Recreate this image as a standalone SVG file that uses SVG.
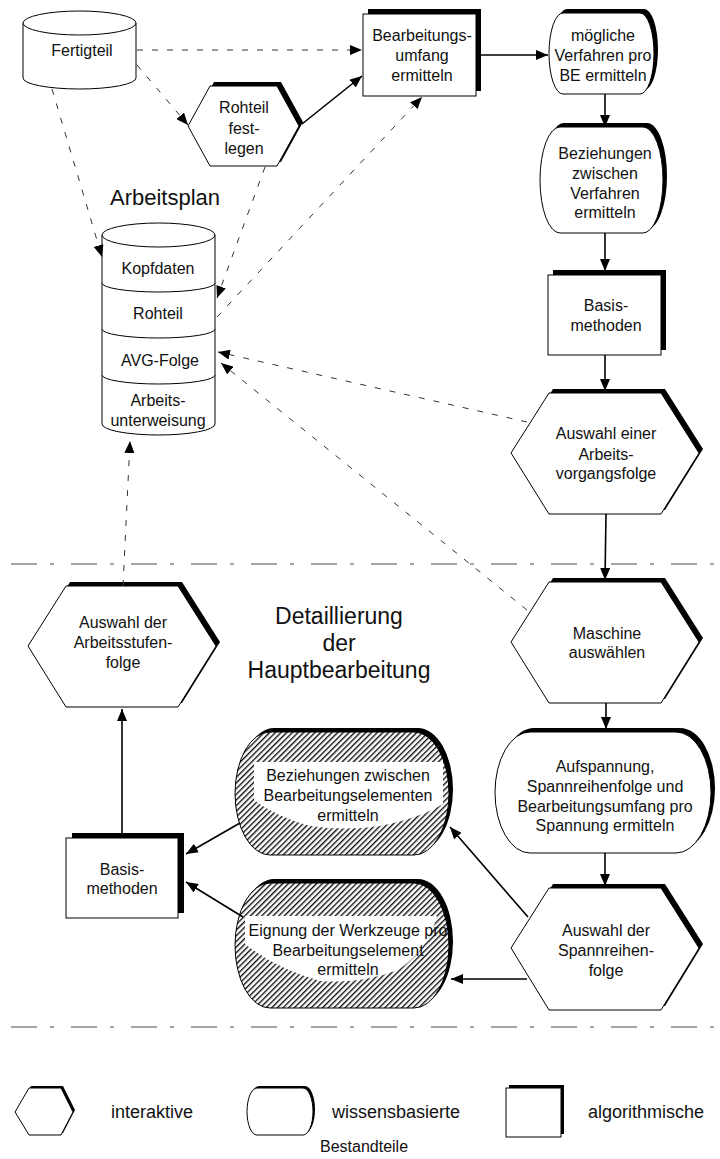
<svg xmlns="http://www.w3.org/2000/svg" width="720" height="1159" viewBox="0 0 720 1159">
<defs>
<style>
text{font-family:"Liberation Sans",Arial,sans-serif;font-size:16px;fill:#111;text-anchor:middle}
.big{font-size:22px}
.big2{font-size:23px}
.leg{font-size:18px}
.sh{fill:#000;stroke:none}
.nd{fill:#fff;stroke:#000;stroke-width:1}
.hat{fill:url(#hatch);stroke:#000;stroke-width:1}
.wh{fill:#fff;stroke:none}
.solid{stroke:#000;stroke-width:1.6;fill:none}
.dash{stroke:#333;stroke-width:1;fill:none;stroke-dasharray:6 9}
.sep{stroke:#888;stroke-width:1.6;fill:none;stroke-dasharray:26 13 4 17}
</style>
<pattern id="hatch" patternUnits="userSpaceOnUse" width="4" height="4" patternTransform="rotate(45)">
<rect width="4" height="4" fill="#fff"/>
<line x1="0.7" y1="0" x2="0.7" y2="4" stroke="#000" stroke-width="1.3"/>
</pattern>
<marker id="ah" markerUnits="userSpaceOnUse" markerWidth="12" markerHeight="10" refX="12" refY="5" orient="auto">
<path d="M0,0 L12,5 L0,10 z" fill="#000"/>
</marker>
</defs>

<g id="separators">
<line class="sep" x1="11" y1="564" x2="720" y2="564"/>
<line class="sep" x1="11" y1="1027" x2="720" y2="1027"/>
</g>

<g id="fertigteil">
<path class="nd" d="M23,23 V78 A56.5,11 0 0 0 136,78 V23"/>
<ellipse class="nd" cx="79.5" cy="23" rx="56.5" ry="12"/>
<text x="82" y="56">Fertigteil</text>
</g>

<g id="arbeitsplan">
<text class="big" x="165" y="205">Arbeitsplan</text>
<path class="nd" d="M102,235 V424 A56.5,11 0 0 0 215,424 V235"/>
<ellipse class="nd" cx="158.5" cy="235" rx="56.5" ry="12"/>
<path class="nd" d="M102,283 A56.5,9 0 0 0 215,283"/>
<path class="nd" d="M102,329 A56.5,9 0 0 0 215,329"/>
<path class="nd" d="M102,375 A56.5,9 0 0 0 215,375"/>
<text x="158" y="274">Kopfdaten</text>
<text x="158" y="319">Rohteil</text>
<text x="160" y="366">AVG-Folge</text>
<text x="158" y="406">Arbeits-</text>
<text x="158" y="426">unterweisung</text>
</g>

<g id="rohteil-festlegen">
<polygon class="sh" transform="translate(4,-4)" points="188,126 210,86 277,86 299,126 277,166 210,166"/>
<polygon class="nd" points="188,126 210,86 277,86 299,126 277,166 210,166"/>
<text x="244" y="113">Rohteil</text>
<text x="244" y="134">fest-</text>
<text x="244" y="154">legen</text>
</g>

<g id="bearbeitungsumfang">
<rect class="sh" x="368" y="9" width="113" height="82"/>
<rect class="nd" x="363" y="14" width="113" height="82"/>
<text x="422" y="41">Bearbeitungs-</text>
<text x="422" y="61">umfang</text>
<text x="422" y="81">ermitteln</text>
</g>

<g id="moegliche-verfahren">
<rect class="sh" x="553" y="9" width="105" height="81" rx="14" ry="40.5"/>
<rect class="nd" x="549" y="13" width="105" height="81" rx="14" ry="40.5"/>
<text x="603" y="41">mögliche</text>
<text x="603" y="61">Verfahren pro</text>
<text x="603" y="81">BE ermitteln</text>
</g>

<g id="beziehungen-verfahren">
<rect class="sh" x="544" y="123" width="123" height="106" rx="20" ry="53"/>
<rect class="nd" x="540" y="127" width="123" height="106" rx="20" ry="53"/>
<text x="605" y="159">Beziehungen</text>
<text x="605" y="179">zwischen</text>
<text x="605" y="199">Verfahren</text>
<text x="605" y="218">ermitteln</text>
</g>

<g id="basismethoden-1">
<rect class="sh" x="553" y="270" width="113" height="80"/>
<rect class="nd" x="548" y="275" width="113" height="80"/>
<text x="606" y="311">Basis-</text>
<text x="606" y="331">methoden</text>
</g>

<g id="auswahl-avf">
<polygon class="sh" transform="translate(4,-4)" points="511,453 549,393 661,393 699,453 661,514 549,514"/>
<polygon class="nd" points="511,453 549,393 661,393 699,453 661,514 549,514"/>
<text x="606" y="439">Auswahl einer</text>
<text x="606" y="460">Arbeits-</text>
<text x="606" y="479">vorgangsfolge</text>
</g>

<g id="maschine-auswaehlen">
<polygon class="sh" transform="translate(4,-4)" points="511,642 549,582 661,582 699,642 661,703 549,703"/>
<polygon class="nd" points="511,642 549,582 661,582 699,642 661,703 549,703"/>
<text x="607" y="639">Maschine</text>
<text x="607" y="658">auswählen</text>
</g>

<g id="detaillierung-label">
<text class="big2" x="339" y="624">Detaillierung</text>
<text class="big2" x="339" y="651">der</text>
<text class="big2" x="339" y="678">Hauptbearbeitung</text>
</g>

<g id="auswahl-arbeitsstufenfolge">
<polygon class="sh" transform="translate(4,-4)" points="28,646 66,586 178,586 216,646 178,707 66,707"/>
<polygon class="nd" points="28,646 66,586 178,586 216,646 178,707 66,707"/>
<text x="123" y="628">Auswahl der</text>
<text x="123" y="648">Arbeitsstufen-</text>
<text x="123" y="668">folge</text>
</g>

<g id="aufspannung">
<rect class="sh" x="499" y="728" width="216" height="121" rx="35" ry="60.5"/>
<rect class="nd" x="495" y="732" width="216" height="121" rx="35" ry="60.5"/>
<text x="605" y="772">Aufspannung,</text>
<text x="605" y="792">Spannreihenfolge und</text>
<text x="605" y="812">Bearbeitungsumfang pro</text>
<text x="605" y="831">Spannung ermitteln</text>
</g>

<g id="beziehungen-be">
<rect class="sh" x="239" y="728" width="214" height="123" rx="35" ry="61.5"/>
<rect class="hat" x="235" y="732" width="214" height="123" rx="35" ry="61.5"/>
<path class="wh" d="M254,762 H443 V804 Q420,818 380,826 Q345,831 310,826 Q275,816 254,800 Z"/>
<text x="348" y="781">Beziehungen zwischen</text>
<text x="348" y="801">Bearbeitungselementen</text>
<text x="348" y="821">ermitteln</text>
</g>

<g id="eignung-werkzeuge">
<rect class="sh" x="239" y="879" width="214" height="125" rx="35" ry="62.5"/>
<rect class="hat" x="235" y="883" width="214" height="125" rx="35" ry="62.5"/>
<path class="wh" d="M245,916 H437 Q428,950 398,970 Q362,984 320,981 Q275,968 245,944 Z"/>
<text x="348" y="936">Eignung der Werkzeuge pro</text>
<text x="348" y="956">Bearbeitungselement</text>
<text x="348" y="975">ermitteln</text>
</g>

<g id="basismethoden-2">
<rect class="sh" x="72" y="833" width="112" height="80"/>
<rect class="nd" x="66" y="838" width="112" height="80"/>
<text x="122" y="875">Basis-</text>
<text x="122" y="894">methoden</text>
</g>

<g id="auswahl-spannreihenfolge">
<polygon class="sh" transform="translate(4,-4)" points="511,948 549,888 661,888 699,948 661,1010 549,1010"/>
<polygon class="nd" points="511,948 549,888 661,888 699,948 661,1010 549,1010"/>
<text x="606" y="936">Auswahl der</text>
<text x="606" y="956">Spannreihen-</text>
<text x="606" y="976">folge</text>
</g>

<g id="connectors">
<line class="dash" x1="137" y1="50" x2="362" y2="50" marker-end="url(#ah)"/>
<line class="dash" x1="137" y1="65" x2="188" y2="125" marker-end="url(#ah)"/>
<line class="dash" x1="52" y1="89" x2="102" y2="257" marker-end="url(#ah)"/>
<line class="dash" x1="265" y1="167" x2="217" y2="298" marker-end="url(#ah)"/>
<line class="dash" x1="217" y1="317" x2="422" y2="97" marker-end="url(#ah)"/>
<line class="dash" x1="527" y1="422" x2="218" y2="352" marker-end="url(#ah)"/>
<line class="dash" x1="527" y1="610" x2="221" y2="363" marker-end="url(#ah)"/>
<line class="dash" x1="123" y1="586" x2="130" y2="441" marker-end="url(#ah)"/>
<line class="solid" x1="302" y1="124" x2="362" y2="76" marker-end="url(#ah)"/>
<line class="solid" x1="476" y1="55" x2="548" y2="55" marker-end="url(#ah)"/>
<line class="solid" x1="605" y1="94" x2="605" y2="127" marker-end="url(#ah)"/>
<line class="solid" x1="605" y1="233" x2="605" y2="271" marker-end="url(#ah)"/>
<line class="solid" x1="605" y1="355" x2="605" y2="391" marker-end="url(#ah)"/>
<line class="solid" x1="606" y1="514" x2="605" y2="580" marker-end="url(#ah)"/>
<line class="solid" x1="606" y1="703" x2="606" y2="729" marker-end="url(#ah)"/>
<line class="solid" x1="605" y1="853" x2="605" y2="886" marker-end="url(#ah)"/>
<line class="solid" x1="528" y1="917" x2="450" y2="827" marker-end="url(#ah)"/>
<line class="solid" x1="527" y1="979" x2="451" y2="979" marker-end="url(#ah)"/>
<line class="solid" x1="240" y1="823" x2="186" y2="854" marker-end="url(#ah)"/>
<line class="solid" x1="243" y1="917" x2="186" y2="882" marker-end="url(#ah)"/>
<line class="solid" x1="122" y1="838" x2="122" y2="709" marker-end="url(#ah)"/>
</g>

<g id="legend">
<g id="legend-interaktive">
<polygon class="sh" transform="translate(2,-2)" points="15,1112 29,1088 61,1088 73,1112 61,1135 29,1135"/>
<polygon class="nd" points="15,1112 29,1088 61,1088 73,1112 61,1135 29,1135"/>
<text class="leg" x="152" y="1118">interaktive</text>
</g>
<g id="legend-wissensbasierte">
<rect class="sh" x="249" y="1086" width="66" height="47" rx="10" ry="23.5"/>
<rect class="nd" x="247" y="1088" width="66" height="47" rx="10" ry="23.5"/>
<text class="leg" x="396" y="1118">wissensbasierte</text>
</g>
<g id="legend-algorithmische">
<rect class="sh" x="509" y="1085" width="55" height="49"/>
<rect class="nd" x="506" y="1088" width="55" height="49"/>
<text class="leg" x="646" y="1118">algorithmische</text>
</g>
<text x="364" y="1152">Bestandteile</text>
</g>
</svg>
